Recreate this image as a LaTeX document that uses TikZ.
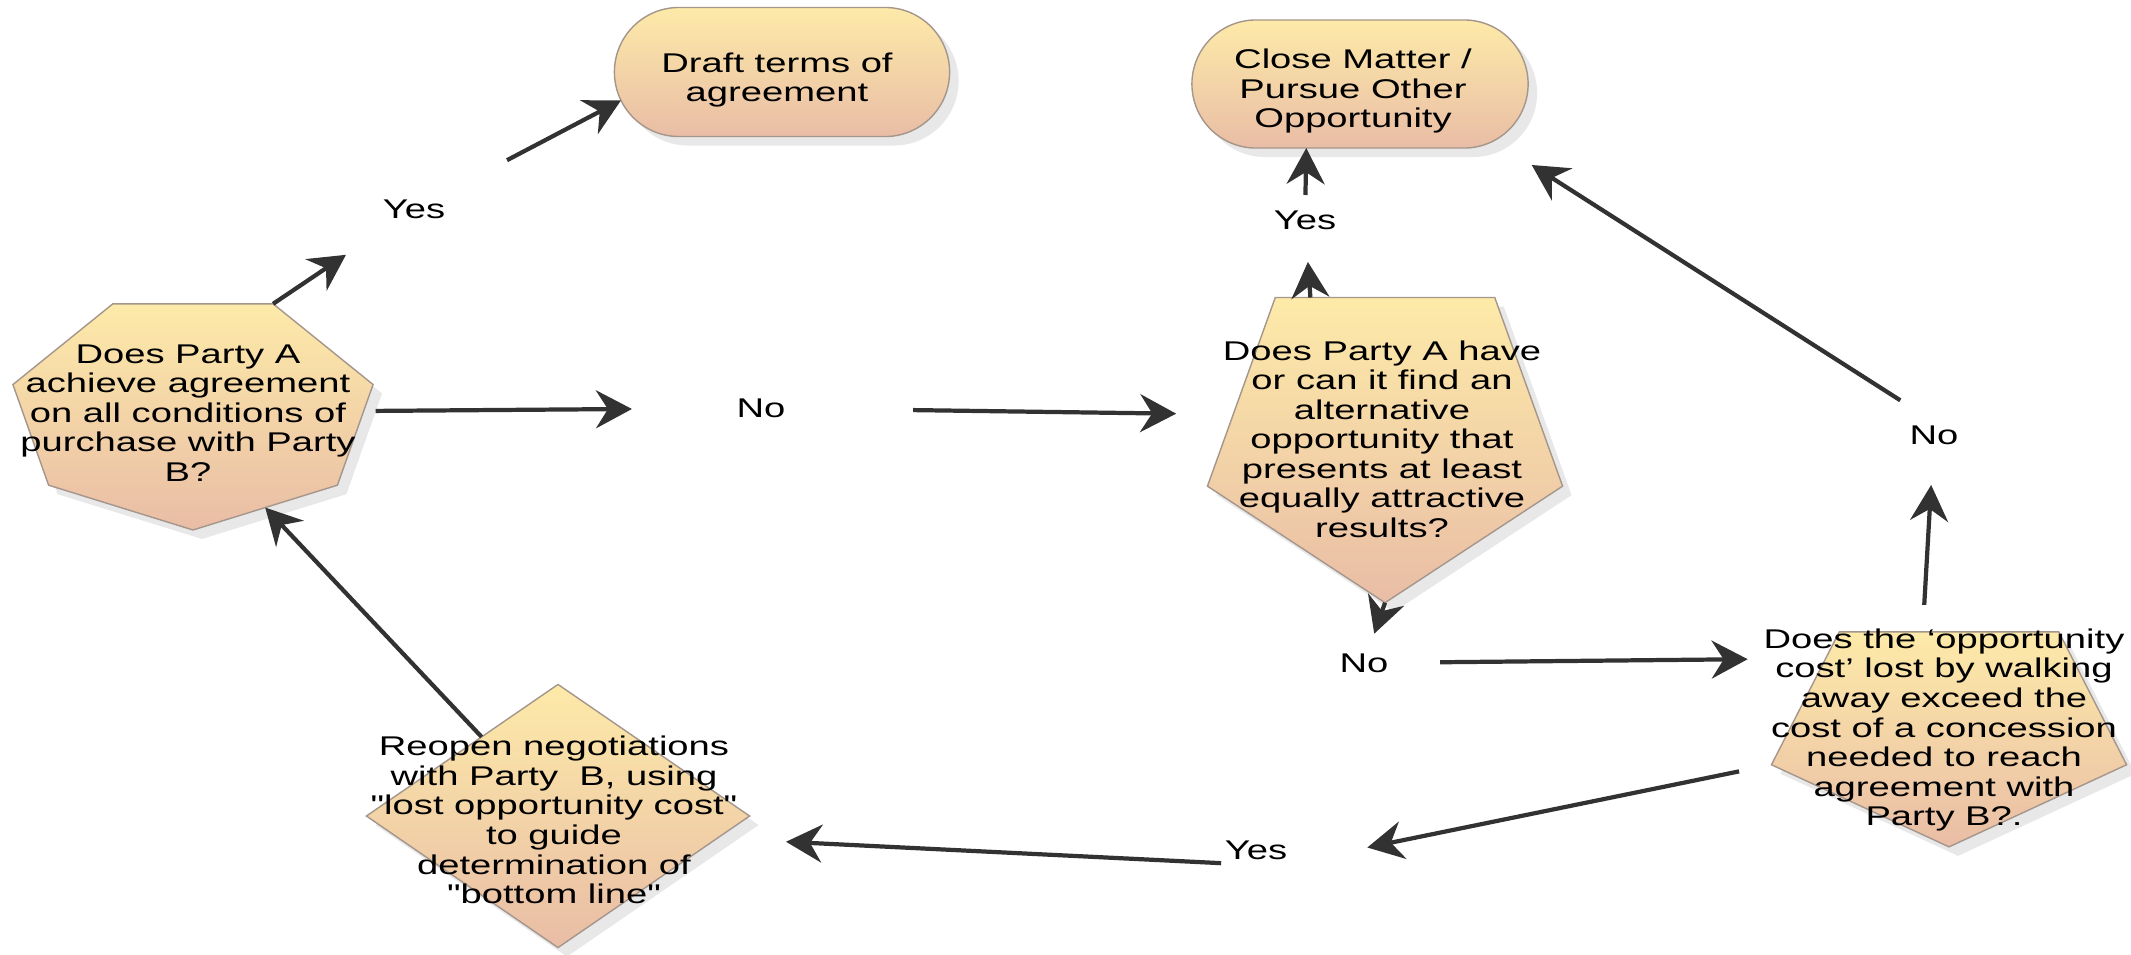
\documentclass[tikz,border=0pt]{standalone}
\usepackage{fontspec}
\setmainfont{Liberation Sans}[FakeStretch=1.41, Ligatures=TeXOff]
\usetikzlibrary{shapes.geometric, shapes.misc, shadows, calc, arrows.meta}

\definecolor{topfill}{RGB}{253,234,168}
\definecolor{botfill}{RGB}{233,189,166}
\definecolor{edgegray}{RGB}{165,150,140}
\definecolor{arrowgray}{RGB}{50,50,50}
\definecolor{shadowgray}{RGB}{232,232,232}
\newcommand{\txtfont}{\fontsize{7.7}{8.4}\selectfont}

\begin{document}
\begin{tikzpicture}[
    x=0.01cm, y=-0.01cm,
    flow/.style={draw=edgegray, line width=0.4pt, top color=topfill, bottom color=botfill, inner sep=0pt, outer sep=0pt,
      drop shadow={shadow xshift=0.09cm, shadow yshift=-0.09cm, fill=shadowgray, opacity=1}},
    term/.style={flow, rounded rectangle, minimum width=3.35cm, minimum height=1.29cm},
    hepta/.style={flow, regular polygon, regular polygon sides=7, shape border rotate=180, minimum size=2cm, transform shape},
    penta/.style={flow, regular polygon, regular polygon sides=5, shape border rotate=180, minimum size=2cm, transform shape},
    dia/.style={flow, diamond, minimum width=3.83cm, minimum height=2.63cm},
    txt/.style={align=center, inner sep=0.03cm, font=\txtfont},
    lbl/.style={inner sep=0.03cm, font=\txtfont},
    arrow/.style={-{Stealth[length=0.36cm, width=0.38cm, inset=0.12cm]}, draw=arrowgray, line width=1.2pt}
  ]
    \useasboundingbox (0,0) rectangle (2131,954);

    % end points
    \node[term] (draft) at (782,72) {};
    \node[txt] (draftt) at (777,80) {Draft terms of\\agreement};
    \node[term, minimum width=3.36cm, minimum height=1.28cm] (close) at (1360,84) {};
    \node[txt] (closet) at (1353,91) {Close Matter /\\Pursue Other\\Opportunity};

    % question 1
    \node[hepta, xscale=1.846, yscale=1.189] (q1) at (193,411) {};
    \node[txt] (q1t) at (188,413) {Does Party A\\achieve agreement\\on all conditions of\\purchase with Party\\B?};

    % question 2
    \node[penta, xscale=1.866, yscale=1.686] (q2) at (1385,434) {};
    \node[txt] (q2t) at (1382,439) {Does Party A have\\or can it find an\\alternative\\opportunity that\\presents at least\\equally attractive\\results?};

    % question 3
    \node[penta, xscale=1.866, yscale=1.188] (q3) at (1949,728) {};
    \node[txt] (q3t) at (1944,730) {Does the ‘opportunity\\cost’ lost by walking\\away exceed the\\cost of a concession\\needed to reach\\agreement with\\Party B?.};

    % reopen
    \node[dia] (act1) at (558,816) {};
    \node[txt] (act1t) at (554,820) {Reopen negotiations\\with Party\ \ B, using\\"lost opportunity cost"\\to guide\\determination of\\"bottom line"};

    % labels
    \node[lbl] (yes1) at (414,209) {Yes};
    \node[lbl] (no1) at (761,408) {No};
    \node[lbl] (yes2) at (1305,220) {Yes};
    \node[lbl] (no2) at (1934,435) {No};
    \node[lbl] (no3) at (1364,663) {No};
    \node[lbl] (yes3) at (1256,850) {Yes};

    % arrows
    \draw[arrow, shorten >=0.82cm] (q1.corner 4) -- (yes1.center);
    \draw[arrow, shorten <=1.05cm] (yes1.center) -- (draft.190);
    \draw[arrow, shorten <=0.12cm, shorten >=1.29cm] (q1.east) -- (no1.center);
    \draw[arrow, shorten <=1.52cm, shorten >=0.57cm] (no1.center) -- ($(q2.corner 4)!0.62!(q2.corner 5)$);
    \draw[arrow, shorten >=0.42cm] ($(q2.corner 4)!0.16!(q2.corner 3)$) -- (yes2.center);
    \draw[arrow, shorten <=0.25cm] (yes2.center) -- (close.230);
    \draw[arrow, shorten >=0.31cm] (q2.corner 1) -- (no3.center);
    \draw[arrow, shorten <=0.76cm, shorten >=0.78cm] (no3.center) -- ($(q3.corner 4)!0.2!(q3.corner 5)$);
    \draw[arrow, shorten <=0.27cm, shorten >=0.5cm] ($(q3.corner 4)!0.38!(q3.corner 3)$) -- (no2.center);
    \draw[arrow, shorten <=0.4cm, shorten >=0.45cm] (no2.north) -- (close.337);
    \draw[arrow, shorten <=0.33cm, shorten >=0.78cm] (q3.corner 5) -- (yes3.south east);
    \draw[arrow, shorten >=0.69cm] (yes3.south west) -- (act1.352);
    \draw[arrow] (act1.134) -- (q1.side 1);
\end{tikzpicture}
\end{document}
